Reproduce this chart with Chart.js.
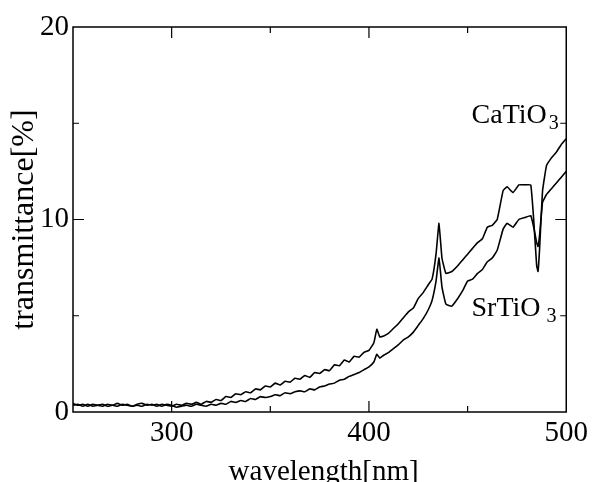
<!DOCTYPE html>
<html>
<head>
<meta charset="utf-8">
<script src="https://cdn.jsdelivr.net/npm/chart.js@4"></script>
<style>
  body { margin: 0; background: #fff; }
  #wrap { width: 592px; height: 482px; }
</style>
</head>
<body>
<div id="wrap"><canvas id="myChart" width="592" height="482"></canvas></div>
<script>
// wavelength [nm]
const wavelength = [
    250, 252.5, 255, 257.5, 260, 262.5, 265, 267.5, 270, 272.5,
    275, 277.5, 280, 282.5, 285, 287.5, 290, 292.5, 295, 297.5,
    300, 302.5, 305, 307.5, 310, 312.5, 315, 317.5, 320, 322.5,
    325, 327.5, 330, 332.5, 335, 337.5, 340, 342.5, 345, 347.5,
    350, 352.5, 355, 357.5, 360, 362.5, 365, 367.5, 370, 372.5,
    375, 377.5, 380, 382.5, 385, 387.5, 390, 392.5, 395, 397.5,
    400, 402.5, 404, 405.5, 407.5, 410, 412.5, 415, 417.5, 420,
    422.5, 425, 427.5, 430, 432, 434, 435.5, 437, 439, 442,
    445, 447.5, 450, 452.5, 455, 457.5, 460, 462.5, 465, 468,
    470, 473, 476, 479, 482, 483.5, 485, 485.7, 486.5, 488,
    490, 492.5, 495, 497.5, 500];

// transmittance [%]
const caTiO3 = [
    0.45, 0.35, 0.4, 0.3, 0.4, 0.35, 0.3, 0.4, 0.35, 0.45,
    0.35, 0.4, 0.3, 0.4, 0.45, 0.35, 0.4, 0.3, 0.4, 0.35,
    0.3, 0.4, 0.35, 0.45, 0.4, 0.5, 0.4, 0.55, 0.5, 0.65,
    0.6, 0.8, 0.75, 0.95, 0.9, 1.05, 1.0, 1.2, 1.15, 1.35,
    1.3, 1.5, 1.4, 1.6, 1.55, 1.75, 1.7, 1.9, 1.8, 2.05,
    2.0, 2.2, 2.15, 2.45, 2.4, 2.7, 2.6, 2.9, 2.85, 3.1,
    3.2, 3.6, 4.3, 3.9, 3.95, 4.1, 4.35, 4.6, 4.9, 5.2,
    5.4, 5.9, 6.2, 6.6, 6.9, 8.2, 9.8, 8.0, 7.2, 7.3,
    7.6, 7.9, 8.2, 8.5, 8.8, 9.0, 9.6, 9.7, 10.0, 11.5,
    11.7, 11.4, 11.8, 11.8, 11.8, 10.0, 7.6, 7.3, 8.5, 11.5,
    12.8, 13.2, 13.5, 13.9, 14.2];

const srTiO3 = [
    0.35, 0.4, 0.3, 0.4, 0.3, 0.35, 0.4, 0.3, 0.35, 0.3,
    0.4, 0.35, 0.3, 0.35, 0.3, 0.4, 0.35, 0.4, 0.3, 0.4,
    0.35, 0.25, 0.3, 0.35, 0.3, 0.4, 0.35, 0.3, 0.4, 0.35,
    0.45, 0.4, 0.55, 0.5, 0.6, 0.55, 0.7, 0.65, 0.8, 0.75,
    0.8, 0.9, 0.85, 1.0, 0.95, 1.05, 1.1, 1.05, 1.2, 1.15,
    1.3, 1.35, 1.45, 1.5, 1.65, 1.7, 1.85, 1.95, 2.05, 2.2,
    2.35, 2.6, 3.0, 2.8, 2.95, 3.1, 3.3, 3.5, 3.75, 3.9,
    4.15, 4.5, 4.85, 5.3, 5.8, 6.8, 8.0, 6.5, 5.6, 5.5,
    5.9, 6.3, 6.8, 6.9, 7.2, 7.4, 7.8, 8.0, 8.4, 9.5,
    9.8, 9.6, 10.0, 10.1, 10.2, 9.6, 8.8, 8.6, 9.2, 10.9,
    11.3, 11.6, 11.9, 12.2, 12.5];

const xLabels = [300, 400, 500];
const yLabels = [0, 10, 20];

const serif = "'Liberation Serif', 'Times New Roman', serif";
Chart.defaults.font.family = serif;
Chart.defaults.color = '#000';

function pts(vals) {
    return wavelength.map((w, i) => ({ x: w, y: vals[i] }));
}

// frame, inward ticks, axis titles and curve labels
const framePlugin = {
    id: 'frame',
    afterDraw(chart) {
        const c = chart.ctx;
        const a = chart.chartArea;
        const xs = chart.scales.x, ys = chart.scales.y;
        c.save();
        c.strokeStyle = '#000';
        c.lineWidth = 1.5;
        c.strokeRect(a.left, a.top, a.right - a.left, a.bottom - a.top);
        c.lineWidth = 1.2;
        c.beginPath();
        for (let v = 300; v < 500; v += 50) {
            const x = xs.getPixelForValue(v);
            const len = v % 100 === 0 ? 11 : 6;
            c.moveTo(x, a.bottom); c.lineTo(x, a.bottom - len);
            c.moveTo(x, a.top); c.lineTo(x, a.top + len);
        }
        for (let v = 5; v < 20; v += 5) {
            const y = ys.getPixelForValue(v);
            const len = v % 10 === 0 ? 11 : 6;
            c.moveTo(a.left, y); c.lineTo(a.left + len, y);
            c.moveTo(a.right, y); c.lineTo(a.right - len, y);
        }
        c.stroke();

        c.fillStyle = '#000';
        c.textAlign = 'center';
        c.textBaseline = 'alphabetic';
        c.font = '29px ' + serif;
        c.fillText('wavelength[nm]', (a.left + a.right) / 2 + 4, 480);
        c.save();
        c.translate(33, (a.top + a.bottom) / 2);
        c.rotate(-Math.PI / 2);
        c.font = '32px ' + serif;
        c.fillText('transmittance[%]', 0, 0);
        c.restore();

        c.textAlign = 'left';
        let x0 = xs.getPixelForValue(452);
        let y0 = ys.getPixelForValue(15);
        c.font = '28px ' + serif;
        c.fillText('CaTiO', x0, y0);
        let w = c.measureText('CaTiO').width;
        c.font = '20px ' + serif;
        c.fillText('3', x0 + w + 2, y0 + 6);

        x0 = xs.getPixelForValue(452);
        y0 = ys.getPixelForValue(5);
        c.font = '28px ' + serif;
        c.fillText('SrTiO', x0, y0);
        w = c.measureText('SrTiO').width;
        c.font = '20px ' + serif;
        c.fillText('3', x0 + w + 6, y0 + 6);
        c.restore();
    }
};

new Chart(document.getElementById('myChart'), {
    type: 'line',
    data: {
        datasets: [{
            label: 'CaTiO3',
            data: pts(caTiO3),
            borderColor: '#000',
            borderWidth: 1.6,
            pointRadius: 0,
            tension: 0.1,
            fill: false
        }, {
            label: 'SrTiO3',
            data: pts(srTiO3),
            borderColor: '#000',
            borderWidth: 1.6,
            pointRadius: 0,
            tension: 0.1,
            fill: false
        }]
    },
    options: {
        responsive: false,
        animation: false,
        layout: { padding: { top: 27, right: 25, left: 0, bottom: 0 } },
        plugins: { legend: { display: false }, tooltip: { enabled: false } },
        scales: {
            x: {
                type: 'linear',
                min: 250,
                max: 500,
                grid: { display: false, drawTicks: false },
                border: { display: false },
                afterBuildTicks(scale) {
                    scale.ticks = xLabels.map(v => ({ value: v }));
                },
                afterFit(scale) { scale.height = 70; },
                ticks: { font: { size: 29 }, padding: 4, maxRotation: 0 }
            },
            y: {
                min: 0,
                max: 20,
                grid: { display: false, drawTicks: false },
                border: { display: false },
                afterBuildTicks(scale) {
                    scale.ticks = yLabels.map(v => ({ value: v }));
                },
                afterFit(scale) { scale.width = 73; },
                ticks: { font: { size: 29 }, padding: 4 }
            }
        }
    },
    plugins: [framePlugin]
});
</script>
</body>
</html>
